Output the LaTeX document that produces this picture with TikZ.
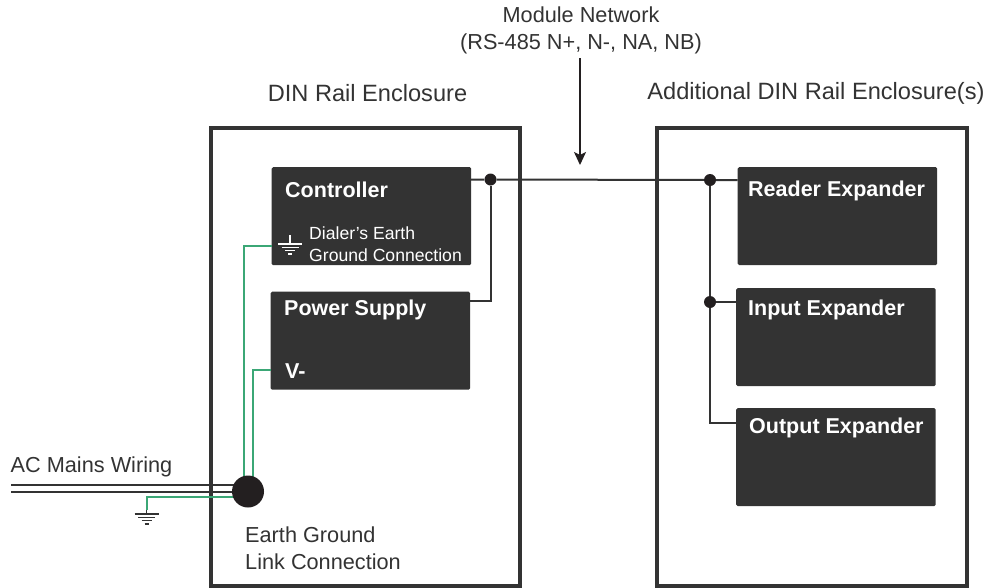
\documentclass[tikz,border=0pt]{standalone}
\usepackage{fontspec}
\setmainfont{Liberation Sans}
\usetikzlibrary{calc}
\usetikzlibrary{positioning}
\usetikzlibrary{arrows.meta}
\definecolor{boxgray}{HTML}{333333}
\definecolor{wiregreen}{HTML}{3BA776}
\definecolor{dotgray}{HTML}{231F20}
\tikzstyle{enclosure} = [draw=boxgray, line width=4pt, anchor=north west, inner sep=0, outer sep=0, minimum height=458]
\tikzstyle{modbox} = [fill=boxgray, rounded corners=1.5pt, anchor=north west, inner sep=0, minimum width=199.5, minimum height=98]
\tikzstyle{modtitle} = [text=white, anchor=west, inner sep=0, font=\fontsize{21.5}{21.5}\selectfont\bfseries]
\tikzstyle{note} = [text=boxgray, align=center, inner sep=0, font=\fontsize{21.7}{27}\selectfont]
\tikzstyle{junction} = [fill=dotgray, circle, inner sep=0, minimum size=12]
\tikzstyle{bus} = [draw=boxgray, line width=2pt]
\tikzstyle{greenwire} = [draw=wiregreen, line width=2pt]
\tikzstyle{earthsym} = [line width=1.5pt]
\newcommand{\earthmark}[2]{%
    \draw[earthsym, #2] ($(#1)+(-12,0)$) -- ($(#1)+(12,0)$);
    \draw[earthsym, #2] ($(#1)+(-8.5,3.3)$) -- ($(#1)+(8.5,3.3)$);
    \draw[earthsym, #2] ($(#1)+(-5,6.6)$) -- ($(#1)+(5,6.6)$);
    \draw[earthsym, #2] ($(#1)+(-2,9.8)$) -- ($(#1)+(2,9.8)$);
}
\begin{document}
\begin{tikzpicture}[x=1pt, y=-1pt]
    \useasboundingbox (0,0) rectangle (987,587);
    % enclosures
    \node[enclosure, minimum width=308.7] (din_left) at (211,127.7) {};
    \node[enclosure, minimum width=310] (din_right) at (657,127.7) {};
    \node[note, font=\fontsize{23.6}{27}\selectfont] (din_left_label) at (367.5,93) {DIN Rail Enclosure};
    \node[note, font=\fontsize{23.6}{27}\selectfont] (din_right_label) at (816,93) {Additional DIN Rail Enclosure(s)};
    \node[note] (network_label) at (581,30) {Module Network\\(RS-485 N+, N-, NA, NB)};
    % modules
    \node[modbox] (controller) at (271.5,167) {};
    \node[modbox] (power) at (270.5,291.5) {};
    \node[modbox] (reader) at (737.5,167) {};
    \node[modbox] (input) at (736,288) {};
    \node[modbox] (output) at (736,408) {};
    \node[modtitle] (controller_t) at (285,190) {Controller};
    \node[modtitle] (power_t) at (284,310) {Power Supply};
    \node[modtitle] (vminus) at (285,371) {V-};
    \node[modtitle] (reader_t) at (748,191) {Reader Expander};
    \node[modtitle] (input_t) at (748,310) {Input Expander};
    \node[modtitle] (output_t) at (749,428) {Output Expander};
    \node[text=white, align=left, anchor=west, inner sep=0, font=\fontsize{17.6}{22}\selectfont] (dialer_t) at (309,244) {Dialer's Earth\\Ground Connection};
    % network wiring
    \node[junction] (join_ctrl) at (490.5,179.5) {};
    \node[junction] (join_read) at (710,180) {};
    \node[junction] (join_in) at (710,302) {};
    \coordinate (ctrl_out) at (471,179.5);
    \coordinate (read_in) at (737.5,180);
    \coordinate (in_in) at (736,302);
    \coordinate (out_in) at (736,423);
    \coordinate (pwr_out) at (470,301);
    \draw[bus] (ctrl_out) -- (join_ctrl) -- (join_read) -- (read_in);
    \draw[bus] (join_ctrl) |- (pwr_out);
    \draw[bus] (join_read) -- (join_in) -- (in_in);
    \draw[bus] (join_in) |- (out_in);
    \coordinate (arrow_top) at (580,58);
    \coordinate (arrow_end) at (580,165);
    \draw[draw=dotgray, line width=1.6pt, -{Stealth[length=13, width=12, inset=3]}] (arrow_top) -- (arrow_end);
    % earth wiring
    \coordinate (link_c) at (248,491.5);
    \node[note, align=left, anchor=west] (link_label) at (245,548.5) {Earth Ground\\Link Connection};
    \node[note, anchor=west] (mains_label) at (10.5,466.5) {AC Mains Wiring};
    \coordinate (mains_a) at (11,485);
    \coordinate (mains_b) at (11,492);
    \draw[bus] (mains_a) -- (mains_a -| link_c);
    \draw[bus] (mains_b) -- (mains_b -| link_c);
    \coordinate (dialer_in) at (271.5,245.7);
    \coordinate (vminus_in) at (270.5,370);
    \coordinate (earth_out) at (146.7,510);
    \coordinate (link_out) at (240,497.3);
    \draw[greenwire] (dialer_in) -| ($(link_c)+(-3.7,-8)$);
    \draw[greenwire] (vminus_in) -| ($(link_c)+(4.7,-8)$);
    \draw[greenwire] (link_out) -| (earth_out);
    \node[fill=dotgray, circle, inner sep=0, minimum size=32] (link) at (link_c) {};
    % earth symbols
    \coordinate (earth_ac) at (146.7,514);
    \coordinate (earth_ctrl) at (290,244);
    \coordinate (earth_ctrl_top) at (290,235);
    \draw[earthsym, boxgray] (earth_out) -- (earth_ac);
    \draw[earthsym, white] (earth_ctrl_top) -- (earth_ctrl);
    \earthmark{earth_ac}{boxgray}
    \earthmark{earth_ctrl}{white}
\end{tikzpicture}
\end{document}
